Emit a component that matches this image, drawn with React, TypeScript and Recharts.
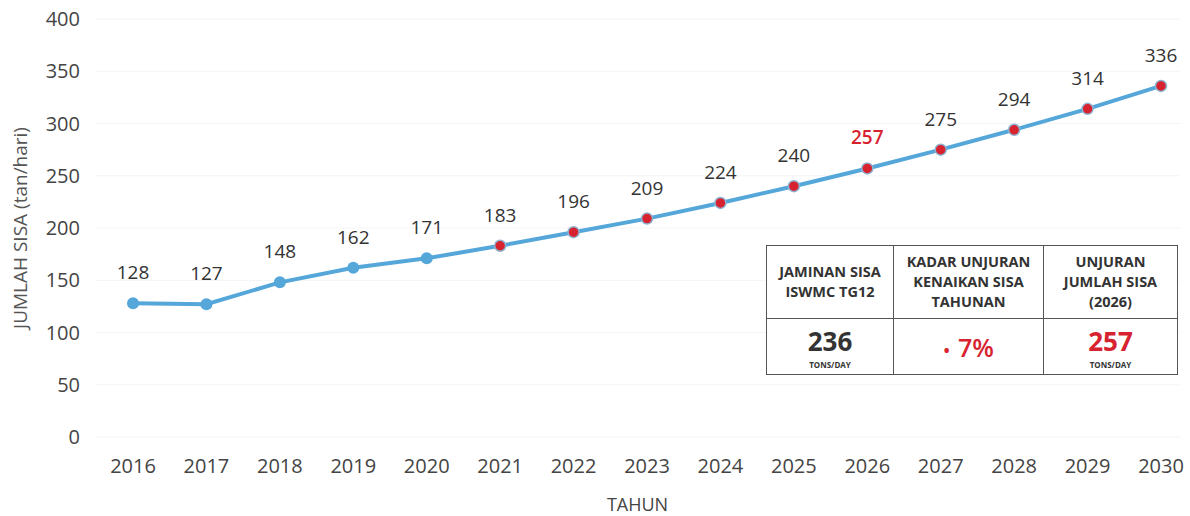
import React from 'react';
import { LineChart, Line, XAxis, YAxis, CartesianGrid, LabelList } from 'recharts';

const years = ['2016', '2017', '2018', '2019', '2020', '2021', '2022', '2023', '2024', '2025', '2026', '2027', '2028', '2029', '2030'];
const wasteTons = [128, 127, 148, 162, 171, 183, 196, 209, 224, 240, 257, 275, 294, 314, 336];
const yTicks = [0, 50, 100, 150, 200, 250, 300, 350, 400];
const projectedFrom = '2021';
const highlightYear = '2026';

const data = years.map((year, i) => ({ year, value: wasteTons[i] }));

const BLUE = '#55a7da';
const RED = '#d7232f';
const FONT = '"Open Sans", sans-serif';

const Dot = (props: any) => {
  const { cx, cy, payload } = props;
  if (cx == null || cy == null) return null;
  if (payload.year >= projectedFrom) {
    return <circle cx={cx} cy={cy} r={5.5} fill={RED} stroke="#8fb3d0" strokeWidth={1.5} />;
  }
  return <circle cx={cx} cy={cy} r={6} fill={BLUE} stroke="none" />;
};

const ValueLabel = (props: any) => {
  const { x, y, value, index } = props;
  const isHl = years[index] === highlightYear;
  return (
    <text
      x={x}
      y={y - 24}
      textAnchor="middle"
      fontFamily={FONT}
      fontSize={19}
      fill={isHl ? RED : '#333'}
      fontWeight={isHl ? 600 : 400}
    >
      {value}
    </text>
  );
};

const cell: React.CSSProperties = {
  border: '1.5px solid #555',
  textAlign: 'center',
  verticalAlign: 'middle',
  padding: 0,
};

const head: React.CSSProperties = {
  ...cell,
  fontWeight: 700,
  fontSize: 14.5,
  lineHeight: '20px',
  color: '#333',
  height: 72,
};

const unit: React.CSSProperties = { fontSize: 8, fontWeight: 700, color: '#333', lineHeight: '11px' };

const SummaryTable = () => (
  <table
    style={{
      position: 'absolute',
      left: 766,
      top: 245,
      width: 411,
      height: 130,
      borderCollapse: 'collapse',
      fontFamily: FONT,
      tableLayout: 'fixed',
      background: '#fff',
    }}
  >
    <colgroup>
      <col style={{ width: 127 }} />
      <col style={{ width: 150 }} />
      <col style={{ width: 134 }} />
    </colgroup>
    <tbody>
      <tr>
        <td style={head}>JAMINAN SISA<br />ISWMC TG12</td>
        <td style={head}>KADAR UNJURAN<br />KENAIKAN SISA<br />TAHUNAN</td>
        <td style={head}>UNJURAN<br />JUMLAH SISA<br />(2026)</td>
      </tr>
      <tr>
        <td style={cell}>
          <div style={{ fontSize: 26, fontWeight: 700, color: '#333', lineHeight: 'normal' }}>236</div>
          <div style={unit}>TONS/DAY</div>
        </td>
        <td style={cell}>
          <div style={{ fontSize: 25, fontWeight: 600, color: RED, lineHeight: 'normal' }}>
            <span style={{ fontSize: 18, marginRight: 8 }}>•</span>7%
          </div>
        </td>
        <td style={cell}>
          <div style={{ fontSize: 26, fontWeight: 700, color: RED, lineHeight: 'normal' }}>257</div>
          <div style={unit}>TONS/DAY</div>
        </td>
      </tr>
    </tbody>
  </table>
);

export default function App() {
  return (
    <div style={{ position: 'absolute', left: 0, top: 0, width: 1190, height: 516, background: '#fff' }}>
      <LineChart width={1190} height={516} data={data} margin={{ top: 19, right: 10, bottom: 0, left: 0 }}>
        <CartesianGrid vertical={false} stroke="#f4f4f4" />
        <XAxis
          dataKey="year"
          axisLine={false}
          tickLine={false}
          tickSize={0}
          tickMargin={22}
          height={79}
          padding={{ left: 38, right: 19 }}
          tick={{ fontFamily: FONT, fontSize: 20, fill: '#444' }}
          interval={0}
          label={{ value: 'TAHUN', position: 'insideBottom', offset: 5, fontFamily: FONT, fontSize: 18, fill: '#444' }}
        />
        <YAxis
          domain={[0, 400]}
          ticks={yTicks}
          axisLine={false}
          tickLine={false}
          tickSize={0}
          tickMargin={15}
          width={95}
          tick={{ fontFamily: FONT, fontSize: 20, fill: '#444' }}
          label={{
            value: 'JUMLAH SISA (tan/hari)',
            angle: -90,
            position: 'insideLeft',
            offset: 20,
            style: { textAnchor: 'middle' },
            fontFamily: FONT,
            fontSize: 19,
            fill: '#555',
          }}
        />
        <Line
          type="linear"
          dataKey="value"
          stroke={BLUE}
          strokeWidth={4}
          dot={<Dot />}
          activeDot={false}
          isAnimationActive={false}
        >
          <LabelList dataKey="value" content={<ValueLabel />} />
        </Line>
      </LineChart>
      <SummaryTable />
    </div>
  );
}
